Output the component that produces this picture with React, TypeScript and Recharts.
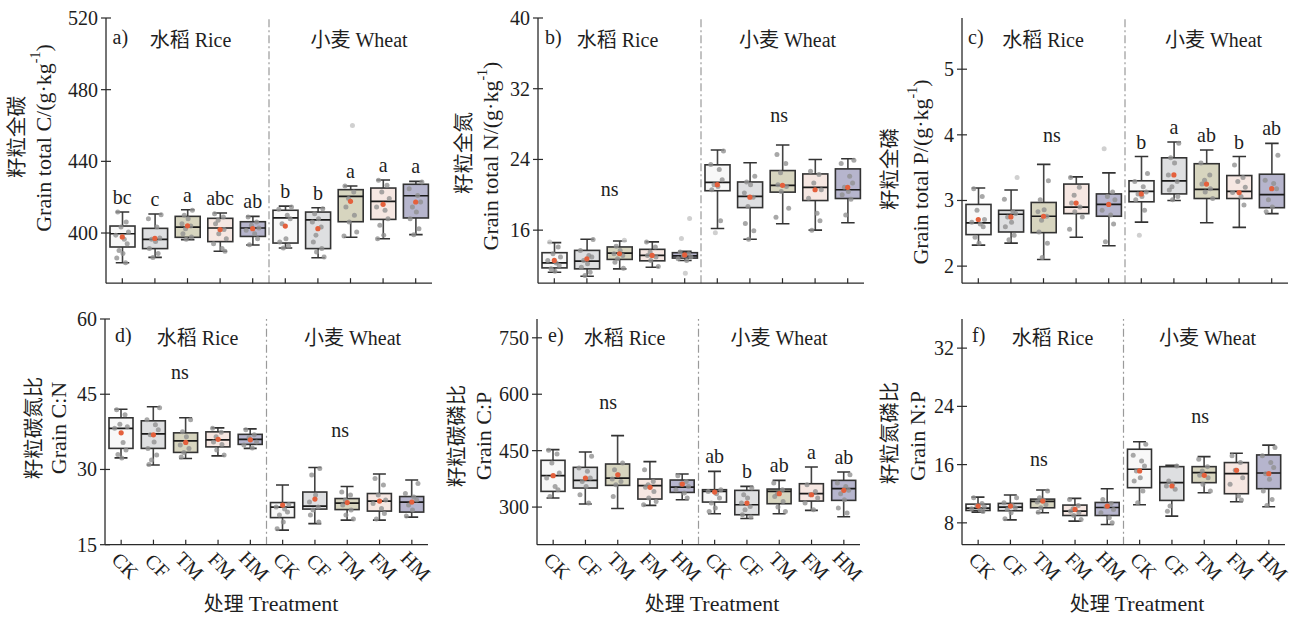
import React from 'react';
import { ComposedChart, Bar, Scatter, XAxis, YAxis, ReferenceLine } from 'recharts';

const TREATMENTS = ['CK', 'CF', 'TM', 'FM', 'HM'];

// 箱线统计：[下须, Q1, 中位数, Q3, 上须, 均值]，前5个为水稻，后5个为小麦
const A_STATS = [
  [383.4, 392.2, 399.6, 403.9, 411.7, 397.8],
  [386.4, 391.3, 396.5, 402.6, 410.6, 397.0],
  [396.3, 397.6, 403.3, 409.3, 413.0, 404.0],
  [389.8, 395.2, 402.8, 408.2, 411.2, 401.9],
  [393.3, 398.1, 402.8, 406.3, 409.3, 402.4],
  [391.6, 394.4, 408.4, 412.7, 415.0, 403.9],
  [386.2, 391.3, 407.3, 411.7, 414.1, 402.4],
  [397.6, 406.3, 420.5, 424.2, 426.2, 417.7],
  [396.8, 407.6, 417.7, 425.1, 429.6, 416.0],
  [399.1, 408.4, 420.8, 427.2, 428.8, 417.3],
];
const A_POINTS = [
  [411.7, 406.1, 403.3, 400.6, 398.7, 396.5, 394.0, 390.3, 388.5, 386.0, 383.4],
  [410.2, 408.0, 403.3, 397.2, 396.5, 395.3, 391.3, 388.5, 386.4],
  [412.7, 409.9, 408.0, 405.2, 403.9, 402.4, 399.6, 397.8, 396.5],
  [410.8, 408.9, 407.1, 405.2, 401.9, 399.6, 396.8, 394.0, 391.3, 389.8],
  [408.9, 406.1, 404.3, 402.8, 401.5, 399.6, 396.8, 393.5],
  [414.5, 413.2, 409.9, 408.0, 405.2, 396.8, 395.0, 392.7, 391.6],
  [413.6, 410.8, 408.0, 406.1, 403.3, 398.7, 395.0, 391.3, 389.4, 386.6],
  [426.2, 422.9, 419.2, 414.5, 409.9, 406.1, 400.6, 398.3, 460.0],
  [429.4, 426.6, 422.9, 419.2, 414.5, 412.7, 408.0, 404.3, 398.7, 396.8],
  [428.5, 424.7, 421.0, 417.3, 414.5, 411.7, 408.0, 402.4, 399.1],
];
const A_LETTERS = ['bc', 'c', 'a', 'abc', 'ab', 'b', 'b', 'a', 'a', 'a'];
const A_NS: number[][] = [];

const B_STATS = [
  [11.24, 11.73, 12.3, 13.45, 14.59, 12.57],
  [10.78, 11.62, 12.5, 13.71, 14.97, 12.76],
  [11.62, 12.69, 13.41, 14.1, 14.78, 13.33],
  [11.81, 12.53, 13.14, 13.83, 14.67, 13.14],
  [12.57, 12.84, 13.1, 13.45, 13.6, 13.2],
  [16.19, 20.46, 21.41, 23.39, 25.07, 21.14],
  [14.97, 18.55, 19.81, 21.45, 23.62, 19.73],
  [16.72, 20.3, 21.07, 22.74, 25.64, 21.07],
  [16.0, 19.35, 20.84, 22.36, 24.0, 20.57],
  [16.84, 19.58, 20.57, 22.93, 24.08, 20.84],
];
const B_POINTS = [
  [14.67, 14.1, 13.33, 12.95, 12.57, 12.27, 12.0, 11.62, 11.35],
  [14.93, 13.71, 13.14, 12.95, 12.57, 12.19, 11.81, 11.24, 10.86],
  [14.86, 14.17, 13.71, 13.33, 13.14, 12.76, 12.38, 11.7],
  [14.67, 14.1, 13.52, 13.14, 12.95, 12.57, 11.89],
  [13.52, 13.33, 13.14, 12.95, 12.76, 12.57, 17.33, 15.05, 11.12],
  [24.95, 23.43, 22.86, 21.71, 21.14, 20.95, 20.57, 17.07, 15.7],
  [22.1, 21.45, 21.14, 20.19, 19.73, 18.67, 16.76, 15.92, 14.97],
  [24.57, 23.54, 22.48, 21.14, 20.95, 20.38, 18.48, 17.45],
  [22.67, 22.29, 21.33, 20.57, 19.62, 17.9, 17.07, 16.0],
  [23.92, 23.54, 22.1, 21.33, 20.84, 20.38, 20.0, 19.5, 17.71],
];
const B_LETTERS: string[] = [];
const B_NS = [[2.2, 20.4], [7.4, 28.8]];

const C_STATS = [
  [2.32, 2.48, 2.66, 2.94, 3.19, 2.71],
  [2.35, 2.52, 2.79, 2.85, 3.16, 2.75],
  [2.1, 2.51, 2.76, 2.97, 3.55, 2.76],
  [2.44, 2.8, 2.9, 3.25, 3.36, 2.96],
  [2.31, 2.76, 2.94, 3.1, 3.42, 2.94],
  [2.67, 2.98, 3.14, 3.3, 3.67, 3.1],
  [3.0, 3.1, 3.3, 3.65, 3.89, 3.39],
  [2.66, 3.03, 3.17, 3.56, 3.77, 3.25],
  [2.59, 3.03, 3.14, 3.38, 3.67, 3.12],
  [2.8, 2.89, 3.09, 3.4, 3.87, 3.18],
];
const C_POINTS = [
  [3.18, 3.06, 2.85, 2.71, 2.67, 2.64, 2.6, 2.44, 2.35],
  [3.35, 3.02, 2.83, 2.8, 2.75, 2.67, 2.6, 2.47, 2.4],
  [3.3, 3.01, 2.86, 2.83, 2.76, 2.7, 2.52, 2.35, 2.13],
  [3.35, 3.2, 3.08, 2.96, 2.9, 2.83, 2.75, 2.56],
  [3.79, 3.13, 3.06, 3.01, 2.85, 2.78, 2.64, 2.37],
  [3.41, 3.29, 3.21, 3.13, 3.1, 3.06, 3.01, 2.85, 2.47],
  [3.87, 3.65, 3.57, 3.39, 3.29, 3.21, 3.16, 3.06, 3.01],
  [3.57, 3.39, 3.31, 3.25, 3.18, 3.13, 3.03],
  [3.54, 3.35, 3.29, 3.2, 3.12, 3.06, 2.93],
  [3.69, 3.31, 3.26, 3.18, 3.01, 2.9, 2.83],
];
const C_LETTERS = ['', '', '', '', '', 'b', 'a', 'ab', 'b', 'ab'];
const C_NS = [[2.76, 3.97]];

const D_STATS = [
  [32.3, 34.2, 38.2, 40.3, 42.0, 37.3],
  [30.9, 34.2, 37.1, 39.7, 42.5, 36.9],
  [32.2, 33.4, 35.7, 37.3, 40.3, 35.4],
  [32.7, 34.5, 35.9, 37.5, 38.3, 36.0],
  [34.2, 35.0, 36.0, 37.0, 38.1, 35.9],
  [17.9, 20.4, 22.5, 23.4, 26.9, 22.9],
  [19.2, 22.1, 22.7, 25.5, 30.4, 24.1],
  [19.9, 22.0, 23.3, 24.2, 26.6, 23.4],
  [19.9, 21.7, 23.7, 25.2, 29.1, 23.7],
  [20.5, 21.5, 23.5, 24.6, 27.9, 23.5],
];
const D_POINTS = [
  [41.9, 40.9, 39.0, 38.5, 38.2, 35.4, 33.9, 33.0, 32.3],
  [42.3, 39.9, 38.9, 37.9, 36.9, 35.5, 34.2, 32.9, 31.9, 31.0],
  [39.9, 37.5, 36.5, 34.9, 34.2, 33.4, 32.5],
  [38.2, 37.4, 36.5, 35.5, 35.0, 33.9, 32.9],
  [37.9, 36.9, 36.3, 35.5, 34.9, 34.3],
  [23.0, 22.5, 22.1, 21.5, 20.9, 19.5, 18.2],
  [30.2, 28.9, 24.9, 23.5, 22.5, 21.9, 20.9, 19.5],
  [25.5, 24.9, 23.9, 22.9, 21.9, 20.9, 20.1],
  [28.2, 26.9, 24.9, 23.9, 23.2, 22.2, 21.2, 20.1],
  [27.2, 25.2, 24.5, 23.9, 22.9, 21.9, 20.7],
];
const D_LETTERS: string[] = [];
const D_NS = [[2.32, 49.1], [7.28, 37.5]];

const E_STATS = [
  [324.0, 341.7, 383.4, 424.3, 452.7, 383.4],
  [308.0, 350.6, 371.0, 405.6, 446.4, 377.2],
  [296.4, 357.7, 377.2, 414.5, 490.0, 386.0],
  [304.4, 321.3, 356.8, 374.6, 420.7, 352.4],
  [319.5, 339.0, 353.3, 371.9, 387.9, 361.2],
  [282.2, 313.3, 341.7, 346.2, 395.0, 339.9],
  [269.8, 279.6, 306.2, 344.4, 355.0, 310.7],
  [282.2, 308.9, 341.7, 347.9, 371.0, 335.5],
  [291.1, 316.0, 335.5, 362.1, 406.5, 332.8],
  [274.3, 317.8, 348.8, 371.0, 393.2, 344.4],
];
const E_POINTS = [
  [450.9, 441.1, 417.2, 390.5, 377.2, 355.0, 346.2, 328.4],
  [434.9, 403.8, 395.0, 377.2, 368.3, 355.0, 332.8, 310.7],
  [417.2, 399.4, 386.1, 374.6, 368.3, 359.5, 328.4],
  [399.4, 368.3, 359.5, 352.4, 341.7, 324.0, 315.1, 306.2],
  [383.4, 368.3, 361.2, 355.0, 346.2, 337.3, 324.0],
  [346.2, 341.7, 335.5, 324.0, 310.7, 297.3, 288.5],
  [350.6, 332.8, 324.0, 310.7, 301.8, 292.9, 279.6, 273.4],
  [363.9, 346.2, 335.5, 328.4, 315.1, 300.0, 288.5],
  [359.5, 341.7, 332.8, 324.0, 310.7, 292.9],
  [386.1, 363.9, 355.0, 344.4, 335.5, 319.5, 297.3, 284.0],
];
const E_LETTERS = ['', '', '', '', '', 'ab', 'b', 'ab', 'a', 'ab'];
const E_NS = [[2.2, 575]];

const F_STATS = [
  [9.47, 9.7, 10.02, 10.57, 11.54, 10.3],
  [8.41, 9.66, 10.16, 10.67, 11.82, 10.3],
  [9.38, 10.07, 10.94, 11.26, 12.51, 10.99],
  [8.23, 9.01, 9.61, 10.44, 11.36, 9.84],
  [7.77, 9.01, 10.11, 10.8, 12.69, 10.3],
  [10.48, 12.83, 15.36, 18.11, 19.13, 15.13],
  [8.92, 11.08, 13.52, 15.72, 15.91, 13.06],
  [12.14, 13.52, 14.9, 15.72, 17.1, 14.53],
  [10.9, 12.0, 14.76, 16.28, 17.56, 15.22],
  [10.21, 12.69, 14.85, 17.33, 18.67, 14.76],
];
const F_POINTS = [
  [11.45, 10.67, 10.39, 10.21, 9.93, 9.75, 9.56],
  [11.45, 10.76, 10.39, 10.07, 9.84, 9.38, 8.55],
  [12.37, 11.45, 11.13, 10.85, 10.53, 10.07, 9.47],
  [11.22, 10.39, 9.93, 9.61, 9.38, 9.01, 8.46],
  [11.22, 10.67, 10.21, 9.84, 9.38, 8.69, 8.0],
  [18.8, 17.29, 16.51, 15.82, 15.13, 14.21, 13.75, 12.37, 10.76],
  [15.82, 13.75, 13.29, 13.06, 12.6, 10.3, 9.61],
  [16.74, 15.72, 15.13, 14.53, 14.21, 13.29, 12.37],
  [17.2, 16.28, 15.22, 14.21, 13.29, 11.68, 11.13],
  [18.34, 17.2, 16.28, 15.59, 14.76, 13.98, 12.37, 11.22, 10.39],
];
const F_LETTERS: string[] = [];
const F_NS = [[2.38, 16.45], [7.37, 22.4]];

// 散点的横向抖动（类别宽度的比例）
const JITTER = [-0.14, 0.12, -0.04, 0.19, -0.2, 0.06, 0.15, -0.1, 0.02, -0.17, 0.1, -0.06];

const FONT = '"Liberation Serif", "Times New Roman", "Noto Sans CJK SC", serif';
const TEXT = '#1e1e1e';
const AXIS = '#2a2a2a';
const FILLS = ['#f8f8f8', '#dedfe1', '#d7d5bf', '#f6e7e2', '#b6b5cd'];

const PANELS = [
  { tag: 'a)', stats: A_STATS, pts: A_POINTS, letters: A_LETTERS, ns: A_NS, domain: [372, 520], ticks: [400, 440, 480, 520],
    left: 105.5, top: 17.5, w: 326, h: 265.2, bottomRow: false,
    t1: '籽粒全碳', t2: 'Grain total C/(g·kg', sup: true, t1p: [17, 137], t2p: [43, 138],
    tagX: 112.5, riceX: 190.5, wheatX: 359 },
  { tag: 'b)', stats: B_STATS, pts: B_POINTS, letters: B_LETTERS, ns: B_NS, domain: [10, 40], ticks: [16, 24, 32, 40],
    left: 537.5, top: 17.5, w: 326, h: 265.2, bottomRow: false,
    t1: '籽粒全氮', t2: 'Grain total N/(g·kg', sup: true, t1p: [464, 153], t2p: [490, 156],
    tagX: 545, riceX: 617.5, wheatX: 787.5 },
  { tag: 'c)', stats: C_STATS, pts: C_POINTS, letters: C_LETTERS, ns: C_NS, domain: [1.74, 5.78], ticks: [2, 3, 4, 5],
    left: 962, top: 17.5, w: 326, h: 265.2, bottomRow: false,
    t1: '籽粒全磷', t2: 'Grain total P/(g·kg', sup: true, t1p: [890, 169], t2p: [920, 172],
    tagX: 968, riceX: 1043, wheatX: 1213.5 },
  { tag: 'd)', stats: D_STATS, pts: D_POINTS, letters: D_LETTERS, ns: D_NS, domain: [15, 60], ticks: [15, 30, 45, 60],
    left: 105, top: 319.3, w: 323, h: 225.7, bottomRow: true,
    t1: '籽粒碳氮比', t2: 'Grain C:N', sup: false, t1p: [34, 428], t2p: [58, 428],
    tagX: 115, riceX: 197.5, wheatX: 352.5, xTitle: 271 },
  { tag: 'e)', stats: E_STATS, pts: E_POINTS, letters: E_LETTERS, ns: E_NS, domain: [200, 800], ticks: [300, 450, 600, 750],
    left: 537, top: 319.3, w: 323, h: 225.7, bottomRow: true,
    t1: '籽粒碳磷比', t2: 'Grain C:P', sup: false, t1p: [457, 436], t2p: [483, 436],
    tagX: 548, riceX: 624.5, wheatX: 779, xTitle: 712 },
  { tag: 'f)', stats: F_STATS, pts: F_POINTS, letters: F_LETTERS, ns: F_NS, domain: [5, 36], ticks: [8, 16, 24, 32],
    left: 962, top: 319.3, w: 323, h: 225.7, bottomRow: true,
    t1: '籽粒氮磷比', t2: 'Grain N:P', sup: false, t1p: [890, 433], t2p: [917, 436],
    tagX: 972, riceX: 1052.5, wheatX: 1207.5, xTitle: 1137 },
];

const BoxShape = (props: any) => {
  const { x, y, width, height } = props;
  const r = props.payload ?? props;
  const top = Math.min(y, y + height);
  const bot = Math.max(y, y + height);
  const span = r.hi - r.lo;
  const py = (v: number) => (span === 0 ? top : top + ((r.hi - v) / span) * (bot - top));
  const cx = x + width / 2;
  const cap = width * 0.27;
  return (
    <g>
      <line x1={cx} x2={cx} y1={top} y2={py(r.q3)} stroke="#444" strokeWidth={1.6} />
      <line x1={cx} x2={cx} y1={py(r.q1)} y2={bot} stroke="#444" strokeWidth={1.6} />
      <line x1={cx - cap} x2={cx + cap} y1={top} y2={top} stroke="#333" strokeWidth={1.6} />
      <line x1={cx - cap} x2={cx + cap} y1={bot} y2={bot} stroke="#333" strokeWidth={1.6} />
      <rect x={x} y={py(r.q3)} width={width} height={Math.max(py(r.q1) - py(r.q3), 0.5)}
        fill={FILLS[r.fi]} stroke="#333" strokeWidth={1.6} />
      <line x1={x} x2={x + width} y1={py(r.med)} y2={py(r.med)} stroke="#1a1a1a" strokeWidth={1.7} />
    </g>
  );
};

function Panel({ p }: { p: any }) {
  const ML = 70;
  const MT = 10;
  const MR = 12;
  const XH = 50;
  const n = p.stats.length;
  const rows = p.stats.map((s: number[], i: number) => ({
    id: `${i < TREATMENTS.length ? 'R' : 'W'}${i}`,
    range: [s[0], s[4]],
    lo: s[0], q1: s[1], med: s[2], q3: s[3], hi: s[4], mean: s[5],
    fi: i % TREATMENTS.length,
  }));
  const points = p.pts.flatMap((list: number[], i: number) =>
    list.map((v: number, j: number) => ({
      x: i + 0.5 + JITTER[(j + i * 3) % JITTER.length],
      y: v,
      out: v > p.stats[i][4] + 1e-6 || v < p.stats[i][0] - 1e-6,
    })),
  );
  const means = p.stats.map((s: number[], i: number) => ({ x: i + 0.5, y: s[5] }));
  const letters = p.letters
    .map((t: string, i: number) => ({ x: i + 0.5, y: p.stats[i][4], text: t }))
    .filter((d: any) => d.text);
  const ns = p.ns.map((d: number[]) => ({ x: d[0], y: d[1], text: 'ns' }));

  const xTick = (tp: any) => {
    const { x, y, index } = tp;
    return (
      <g>
        <line x1={x} x2={x} y1={y} y2={y - 5} stroke={AXIS} strokeWidth={1.2} />
        {p.bottomRow && (
          <text transform={`translate(${x + 4},${y + 21}) rotate(45)`} textAnchor="middle"
            dominantBaseline="central" fontSize={20} fontFamily={FONT} fill={TEXT}>
            {TREATMENTS[index % TREATMENTS.length]}
          </text>
        )}
      </g>
    );
  };
  const yTick = (tp: any) => {
    const { x, y, payload } = tp;
    return (
      <g>
        <line x1={x - 5} x2={x + 5} y1={y} y2={y} stroke={AXIS} strokeWidth={1.2} />
        <text x={x - 8} y={y} textAnchor="end" dominantBaseline="central" fontSize={20}
          fontFamily={FONT} fill={TEXT}>{payload.value}</text>
      </g>
    );
  };

  return (
    <div style={{ position: 'absolute', left: p.left - ML, top: p.top - MT }}>
      <ComposedChart width={p.w + ML + MR} height={p.h + MT + XH} data={rows}
        margin={{ top: MT, right: MR, bottom: 0, left: 20 }}>
        <XAxis xAxisId="cat" dataKey="id" type="category" height={XH} interval={0}
          tickLine={false} tickSize={0} tickMargin={0} tick={xTick}
          axisLine={{ stroke: AXIS, strokeWidth: 1.3 }} />
        <XAxis xAxisId="num" dataKey="x" type="number" domain={[0, n]} hide />
        <YAxis type="number" domain={p.domain} ticks={p.ticks} width={50} interval={0}
          tickLine={false} tickSize={0} tickMargin={0} tick={yTick}
          axisLine={{ stroke: AXIS, strokeWidth: 1.3 }} allowDataOverflow />
        <ReferenceLine xAxisId="num" x={TREATMENTS.length} stroke="#9a9a9a" strokeWidth={1.2}
          strokeDasharray="8 3 2 3" />
        <Bar xAxisId="cat" dataKey="range" barSize={p.bottomRow ? 24 : 25} shape={BoxShape}
          isAnimationActive={false} />
        <Scatter xAxisId="num" data={points} dataKey="y" isAnimationActive={false}
          shape={(s: any) => (
            <circle cx={s.cx} cy={s.cy} r={2.5} fill={s.payload.out ? '#c4c4c4' : '#8f8f8f'}
              fillOpacity={s.payload.out ? 0.8 : 0.78} />
          )} />
        <Scatter xAxisId="num" data={means} dataKey="y" isAnimationActive={false}
          shape={(s: any) => <circle cx={s.cx} cy={s.cy} r={2.6} fill="#e4603c" />} />
        <Scatter xAxisId="num" data={letters} dataKey="y" isAnimationActive={false}
          shape={(s: any) => (
            <text x={s.cx} y={s.cy - 8} textAnchor="middle" fontSize={20} fontFamily={FONT}
              fill={TEXT}>{s.payload.text}</text>
          )} />
        <Scatter xAxisId="num" data={ns} dataKey="y" isAnimationActive={false}
          shape={(s: any) => (
            <text x={s.cx} y={s.cy + 5} textAnchor="middle" fontSize={20} fontFamily={FONT}
              fill={TEXT}>{s.payload.text}</text>
          )} />
      </ComposedChart>
    </div>
  );
}

function Labels() {
  return (
    <svg width={1297} height={618} style={{ position: 'absolute', left: 0, top: 0, pointerEvents: 'none' }}>
      {PANELS.map((p) => {
        const gy = p.bottomRow ? 345 : 46.5;
        return (
          <g key={p.tag} fontFamily={FONT} fill={TEXT} fontSize={20}>
            <text x={p.tagX} y={gy - 3}>{p.tag}</text>
            <text x={p.riceX} y={gy} textAnchor="middle">水稻 Rice</text>
            <text x={p.wheatX} y={gy} textAnchor="middle">小麦 Wheat</text>
            <text transform={`translate(${p.t1p[0]},${p.t1p[1]}) rotate(-90)`} textAnchor="middle"
              dominantBaseline="central" fontSize={20.5}>{p.t1}</text>
            <text transform={`translate(${p.t2p[0]},${p.t2p[1]}) rotate(-90)`} textAnchor="middle"
              dominantBaseline="central" fontSize={22}>
              <tspan>{p.t2}</tspan>
              {p.sup && <tspan dy={-8} fontSize={14}>-1</tspan>}
              {p.sup && <tspan dy={8}>)</tspan>}
            </text>
            {p.bottomRow && (
              <text x={p.xTitle} y={611} textAnchor="middle">
                <tspan fontSize={20}>处理 </tspan>
                <tspan fontSize={22}>Treatment</tspan>
              </text>
            )}
          </g>
        );
      })}
    </svg>
  );
}

export default function App() {
  return (
    <div style={{ position: 'absolute', left: 0, top: 0, width: 1297, height: 618, background: '#fff' }}>
      {PANELS.map((p) => (
        <Panel key={p.tag} p={p} />
      ))}
      <Labels />
    </div>
  );
}
